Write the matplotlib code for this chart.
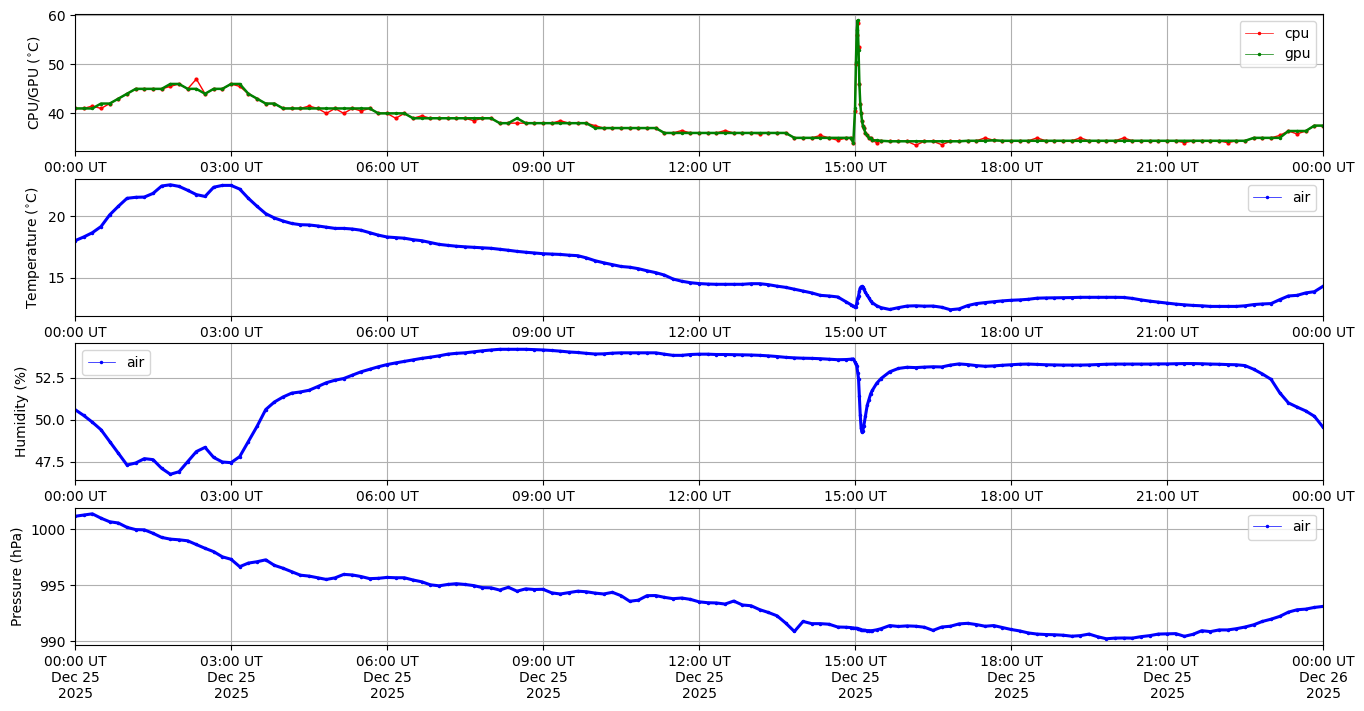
import numpy as np
import matplotlib
matplotlib.use("Agg")
import matplotlib.pyplot as plt
import matplotlib.dates as mdates
from matplotlib.lines import Line2D

# sample times (minutes after 2025-12-25 00:00 UT), denser around the 15:00 event
minutes = (list(range(0, 900, 10)) + [895, 898] + list(range(900, 911))
           + list(range(912, 921, 2)) + [925, 930] + list(range(940, 1441, 10)))
times = np.datetime64("2025-12-25T00:00") + np.array(minutes) * np.timedelta64(1, "m")

gpu = [41, 41, 41, 42, 42, 43,
       44, 45, 45, 45, 45, 46,
       46, 45, 45, 44, 45, 45,
       46, 46, 44, 43, 42, 42,
       41, 41, 41, 41, 41, 41,
       41, 41, 41, 41, 41, 40,
       40, 40, 40, 39, 39, 39,
       39, 39, 39, 39, 39, 39,
       39, 38, 38, 39, 38, 38,
       38, 38, 38, 38, 38, 38,
       37, 37, 37, 37, 37, 37,
       37, 37, 36, 36, 36, 36,
       36, 36, 36, 36, 36, 36,
       36, 36, 36, 36, 36, 35,
       35, 35, 35, 35, 35, 35,
       35, 34,
       41, 50.5, 57, 59, 53, 46, 42, 40, 38.5, 37.5, 37,
       36, 35.5, 35, 35, 34.5,
       34.5, 34.4,
       34.3, 34.3,
       34.3, 34.3, 34.3, 34.3, 34.3, 34.3,
       34.3, 34.4, 34.4, 34.4, 34.5, 34.4,
       34.4, 34.4, 34.4, 34.4, 34.4, 34.4,
       34.4, 34.4, 34.4, 34.4, 34.4, 34.4,
       34.4, 34.4, 34.4, 34.4, 34.4, 34.4,
       34.4, 34.4, 34.4, 34.4, 34.4, 34.4,
       34.4, 34.4, 34.4, 34.4, 35, 35,
       35, 35, 36.4, 36.4, 36.4, 37.5,
       37.5]

cpu = [41, 41, 41.5, 41, 42, 43,
       44, 45, 45, 45, 45, 45.5,
       46, 45, 47, 44, 45, 45,
       46, 45.5, 44, 43, 42, 42,
       41, 41, 41, 41.5, 41, 40,
       41, 40, 41, 40.5, 41, 40,
       40, 39, 40, 39, 39.5, 39,
       39, 39, 39, 39, 38.5, 39,
       39, 38, 38, 38, 38, 38,
       38, 38, 38.5, 38, 38, 38,
       37.5, 37, 37, 37, 37, 37,
       37, 37, 36, 36, 36.5, 36,
       36, 36, 36, 36.5, 36, 36,
       36, 35.8, 36, 36, 36, 35,
       35, 35, 35.5, 35, 34.5, 35,
       35, 34,
       40.5, 50, 56, 58.5, 53.5, 46, 42, 40, 38.5, 37.5, 37,
       36, 35.5, 35, 35, 34.5,
       34, 34.4,
       34.3, 34.3,
       34.3, 33.5, 34.3, 34.3, 33.6, 34.3,
       34.3, 34.4, 34.4, 35, 34.5, 34.4,
       34.4, 34.4, 34.4, 35, 34.4, 34.4,
       34.4, 34.4, 35, 34.4, 34.4, 34.4,
       34.4, 35, 34.4, 34.4, 34.4, 34.4,
       34.4, 34.4, 34, 34.4, 34.4, 34.4,
       34.4, 34, 34.4, 34.4, 35, 35,
       35, 35.5, 36.4, 35.8, 36.4, 37.5,
       37.5]

temp = [18.0, 18.3, 18.65, 19.15, 20.1, 20.8,
        21.45, 21.53, 21.55, 21.85, 22.45, 22.55,
        22.42, 22.1, 21.75, 21.6, 22.35, 22.5,
        22.5, 22.2, 21.45, 20.8, 20.2, 19.85,
        19.6, 19.4, 19.3, 19.28, 19.2, 19.1,
        19.0, 19.0, 18.95, 18.85, 18.65, 18.45,
        18.3, 18.25, 18.2, 18.08, 18.0, 17.85,
        17.7, 17.62, 17.55, 17.5, 17.46, 17.42,
        17.38, 17.3, 17.22, 17.13, 17.06, 17.0,
        16.94, 16.91, 16.88, 16.82, 16.78, 16.6,
        16.37, 16.2, 16.05, 15.9, 15.84, 15.72,
        15.55, 15.4, 15.2, 14.88, 14.7, 14.58,
        14.51, 14.47, 14.45, 14.45, 14.45, 14.45,
        14.5, 14.5, 14.42, 14.3, 14.2, 14.05,
        13.9, 13.75, 13.55, 13.5, 13.42, 13.0,
        12.8, 12.68,
        12.6, 12.62, 12.9, 13.3, 13.5, 13.9, 14.15, 14.25, 14.28, 14.2, 14.05,
        13.8, 13.55, 13.35, 13.1, 12.95,
        12.7, 12.55,
        12.4, 12.55,
        12.68, 12.7, 12.67, 12.68, 12.58, 12.38,
        12.45, 12.72, 12.88, 12.96, 13.03, 13.1,
        13.15, 13.18, 13.23, 13.32, 13.34, 13.35,
        13.36, 13.37, 13.39, 13.39, 13.39, 13.39,
        13.39, 13.38, 13.3, 13.18, 13.08, 13.0,
        12.92, 12.84, 12.78, 12.73, 12.7, 12.65,
        12.65, 12.65, 12.65, 12.7, 12.8, 12.85,
        12.88, 13.2, 13.5, 13.55, 13.75, 13.85,
        14.29]

hum = [50.6, 50.25, 49.85, 49.4, 48.7, 48.0,
       47.3, 47.42, 47.68, 47.62, 47.1, 46.75,
       46.9, 47.5, 48.1, 48.35, 47.75, 47.48,
       47.44, 47.8, 48.7, 49.6, 50.6, 51.05,
       51.35, 51.58, 51.65, 51.75, 51.97, 52.2,
       52.35, 52.45, 52.65, 52.85, 53.0, 53.15,
       53.28, 53.38, 53.47, 53.56, 53.65, 53.72,
       53.8, 53.9, 53.95, 53.98, 54.04, 54.1,
       54.15, 54.19, 54.19, 54.19, 54.19, 54.17,
       54.15, 54.12, 54.08, 54.03, 54.0, 53.95,
       53.91, 53.92, 53.96, 53.98, 53.98, 53.98,
       53.98, 53.98, 53.9, 53.83, 53.83, 53.88,
       53.9, 53.9, 53.88, 53.88, 53.87, 53.86,
       53.85, 53.83, 53.8, 53.76, 53.71, 53.68,
       53.66, 53.65, 53.63, 53.6, 53.57, 53.58,
       53.6, 53.62,
       53.42, 53.3, 53.2, 52.8, 52.44, 51.4, 50.25, 49.5, 49.25, 49.35, 49.6,
       50.23, 50.85, 51.2, 51.54, 51.75,
       52.17, 52.45,
       52.85, 53.05,
       53.12, 53.1, 53.13, 53.15, 53.14, 53.25,
       53.32, 53.28, 53.22, 53.18, 53.2, 53.24,
       53.27, 53.3, 53.31, 53.29, 53.27, 53.26,
       53.25, 53.25, 53.25, 53.26, 53.28, 53.3,
       53.31, 53.31, 53.31, 53.31, 53.31, 53.32,
       53.32, 53.33, 53.34, 53.34, 53.33, 53.31,
       53.3, 53.28, 53.27, 53.22, 53.0, 52.72,
       52.4, 51.6, 51.0, 50.75, 50.52, 50.2,
       49.55]

pres = [1001.14, 1001.25, 1001.36, 1000.97, 1000.65, 1000.54,
        1000.15, 999.95, 999.93, 999.62, 999.25, 999.1,
        999.04, 998.95, 998.62, 998.28, 997.98, 997.52,
        997.3, 996.64, 996.96, 997.08, 997.25, 996.76,
        996.5, 996.19, 995.88, 995.8, 995.65, 995.5,
        995.64, 995.95, 995.9, 995.76, 995.57, 995.6,
        995.68, 995.65, 995.65, 995.45, 995.29, 995.02,
        994.93, 995.05, 995.12, 995.05, 994.95, 994.77,
        994.75, 994.55, 994.8, 994.45, 994.66, 994.6,
        994.62, 994.3, 994.2, 994.32, 994.45, 994.4,
        994.28, 994.2, 994.35, 994.05, 993.55, 993.65,
        994.05, 994.06, 993.9, 993.78, 993.84, 993.72,
        993.5, 993.42, 993.4, 993.3, 993.57, 993.22,
        993.15, 992.8, 992.55, 992.25, 991.6, 990.85,
        991.75, 991.55, 991.55, 991.5, 991.25, 991.23,
        991.2, 991.17,
        991.15, 991.14, 991.12, 991.1, 991.08, 991.05, 991.03, 991.0, 990.98, 990.97, 990.95,
        990.94, 990.93, 990.93, 990.92, 990.93,
        991.0, 991.1,
        991.38, 991.3,
        991.35, 991.32, 991.23, 990.95, 991.25, 991.32,
        991.53, 991.58, 991.47, 991.32, 991.38, 991.2,
        991.03, 990.9, 990.72, 990.62, 990.58, 990.56,
        990.52, 990.43, 990.48, 990.62, 990.38, 990.2,
        990.26, 990.27, 990.26, 990.39, 990.48, 990.62,
        990.64, 990.66, 990.42, 990.6, 990.92, 990.84,
        990.99, 990.99, 991.1, 991.25, 991.45, 991.75,
        991.95, 992.2, 992.58, 992.79, 992.85, 993.0,
        993.09]

fig, axes = plt.subplots(4, 1, figsize=(13.64, 7.11), dpi=100)
fig.subplots_adjust(left=0.055, right=0.97, top=0.9803, bottom=0.0928, hspace=0.197)

def proxy(color, label):
    return Line2D([], [], color=color, lw=0.5, marker=".", ms=3, label=label)

ax = axes[0]
ax.plot(times, cpu, ".-", color="r", lw=1.0, ms=4)
ax.plot(times, gpu, ".-", color="g", lw=1.8, ms=3)
ax.set_ylabel(r"CPU/GPU ($^{\circ}$C)")
ax.legend(handles=[proxy("r", "cpu"), proxy("g", "gpu")], loc="upper right")

ax = axes[1]
ax.plot(times, temp, ".-", color="b", lw=2.2, ms=3)
ax.set_ylabel(r"Temperature ($^{\circ}$C)")
ax.legend(handles=[proxy("b", "air")], loc="upper right")

ax = axes[2]
ax.plot(times, hum, ".-", color="b", lw=2.2, ms=3)
ax.set_ylabel("Humidity (%)")
ax.legend(handles=[proxy("b", "air")], loc="upper left")

ax = axes[3]
ax.plot(times, pres, ".-", color="b", lw=2.2, ms=3)
ax.set_ylabel("Pressure (hPa)")
ax.legend(handles=[proxy("b", "air")], loc="upper right")

start = np.datetime64("2025-12-25T00:00")
end = np.datetime64("2025-12-26T00:00")
for i, ax in enumerate(axes):
    ax.set_xlim(start, end)
    ax.grid(True)
    ax.xaxis.set_major_locator(mdates.HourLocator(byhour=range(0, 24, 3)))
    if i == 3:
        ax.xaxis.set_major_formatter(mdates.DateFormatter("%H:%M UT\n%b %d\n%Y"))
    else:
        ax.xaxis.set_major_formatter(mdates.DateFormatter("%H:%M UT"))

fig.savefig("out.png", dpi=100)
